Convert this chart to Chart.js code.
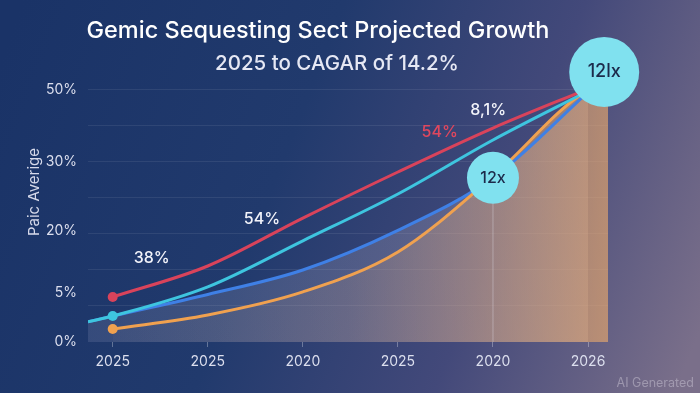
<!DOCTYPE html>
<html>
<head>
<meta charset="utf-8">
<title>Projected Growth</title>
<script src="https://cdn.jsdelivr.net/npm/chart.js@4.4.1/dist/chart.umd.min.js"></script>
<style>
  html, body { margin: 0; padding: 0; background: #1b3468; }
  canvas { display: block; }
</style>
</head>
<body>
<canvas id="myChart" width="700" height="393"></canvas>
<script>
// values, y in grid steps (0..7)
const years = ['2025', '2025', '2020', '2025', '2020', '2026'];
const xSteps = [0, 1, 2, 3, 4, 5];

const redLine = [1.25, 2.11, 3.44, 4.72, 5.94, 7.03];
const cyanLine = [0.72, 1.53, 2.81, 4.11, 5.61, 6.97];
const blueLine = [0.72, 1.32, 2.0, 3.1, 4.56, 6.94];
const orangeLine = [0.36, 0.75, 1.39, 2.5, 4.6, 7.0];

// pieces that run to the plot edges
const leftEdge = -0.26;
const rightEdge = 5.21;
const lineStart = 0.56;
const orangeEnd = 7.15;

const yTickValues = [0, 1.36, 3.1, 5, 7];
const yTickLabels = ['0%', '5%', '20%', '30%', '50%'];
const gridValues = [0, 1, 2, 3, 4, 5, 6, 7];

const bubbleX = [4, 5.17];
const bubbleY = [4.56, 7.5];
const bubbleText = ['12x', '12lx'];

const noteX = [0.41, 1.57, 3.44, 3.95];
const noteY = [2.33, 3.42, 5.83, 6.44];
const noteText = ['38%', '54%', '54%', '8,1%'];

const FONT = 'Inter, "Noto Sans", sans-serif';

const toPoints = (vals) => xSteps.map((x, i) => ({ x: x, y: vals[i] }));

const background = {
    id: 'background',
    beforeDraw: (chart) => {
        const c = chart.ctx;
        const g = c.createLinearGradient(0, 60, 700, 330);
        g.addColorStop(0, '#1a3367');
        g.addColorStop(0.4, '#213a6d');
        g.addColorStop(0.7, '#43497a');
        g.addColorStop(1, '#7a6f8a');
        c.save();
        c.fillStyle = g;
        c.fillRect(0, 0, chart.width, chart.height);
        c.restore();
    }
};

const texts = {
    id: 'texts',
    afterDatasetsDraw: (chart) => {
        const c = chart.ctx;
        const x = chart.scales.x;
        const y = chart.scales.y;
        c.save();
        c.textAlign = 'center';
        c.textBaseline = 'middle';

        // notes on the lines
        const noteColors = ['#f2f3fa', '#f2f3fa', '#e0475e', '#f2f3fa'];
        c.font = '500 16px ' + FONT;
        noteText.forEach((t, i) => {
            c.fillStyle = noteColors[i];
            c.fillText(t, x.getPixelForValue(noteX[i]), y.getPixelForValue(noteY[i]));
        });

        // labels in the bubbles
        const meta = chart.getDatasetMeta(chart.data.datasets.length - 1);
        c.fillStyle = '#1c2a4a';
        meta.data.forEach((pt, i) => {
            c.font = '500 ' + (i === 0 ? 16 : 18) + 'px ' + FONT;
            c.fillText(bubbleText[i], pt.x, pt.y);
        });
        c.restore();
    },
    afterDraw: (chart) => {
        const c = chart.ctx;
        c.save();
        c.textAlign = 'center';
        c.textBaseline = 'middle';
        c.fillStyle = '#ffffff';
        c.font = '500 23.5px ' + FONT;
        c.fillText('Gemic Sequesting Sect Projected Growth', 318, 31);
        c.fillStyle = '#e6e8f4';
        c.font = '500 20.5px ' + FONT;
        c.fillText('2025 to CAGAR of 14.2%', 337, 64);
        c.textAlign = 'right';
        c.fillStyle = 'rgba(195, 190, 205, 0.55)';
        c.font = '12.5px ' + FONT;
        c.fillText('AI Generated', 694, 383);
        c.restore();
    }
};

const ctx = document.getElementById('myChart');

new Chart(ctx, {
    type: 'line',
    data: {
        datasets: [
            {
                label: 'red',
                data: toPoints(redLine),
                borderColor: '#d9435b',
                pointBackgroundColor: '#d9435b',
                borderWidth: 3,
                pointRadius: (c) => (c.raw && c.raw.x === 0 ? 5 : 0),
                pointBorderWidth: 0,
                cubicInterpolationMode: 'monotone',
                fill: false,
                order: 1
            },
            {
                label: 'cyan',
                data: [{ x: leftEdge, y: lineStart }].concat(toPoints(cyanLine)),
                borderColor: '#3ec5df',
                pointBackgroundColor: '#3ec5df',
                borderWidth: 3,
                pointRadius: (c) => (c.raw && c.raw.x === 0 ? 5 : 0),
                pointBorderWidth: 0,
                cubicInterpolationMode: 'monotone',
                fill: false,
                order: 2
            },
            {
                label: 'orange',
                data: toPoints(orangeLine).concat([{ x: rightEdge, y: orangeEnd }]),
                borderColor: '#f0a14f',
                pointBackgroundColor: '#f0a14f',
                borderWidth: 3,
                pointRadius: (c) => (c.raw && c.raw.x === 0 ? 5 : 0),
                pointBorderWidth: 0,
                cubicInterpolationMode: 'monotone',
                fill: 'origin',
                backgroundColor: (c) => {
                    const area = c.chart.chartArea;
                    if (!area) return 'rgba(0,0,0,0)';
                    const g = c.chart.ctx.createLinearGradient(area.left, 0, area.right, 0);
                    g.addColorStop(0, 'rgba(190, 160, 150, 0.03)');
                    g.addColorStop(0.5, 'rgba(205, 160, 130, 0.18)');
                    g.addColorStop(1, 'rgba(232, 168, 108, 0.65)');
                    return g;
                },
                order: 3
            },
            {
                label: 'blue',
                data: [{ x: leftEdge, y: lineStart }].concat(toPoints(blueLine)),
                borderColor: '#3f80e6',
                borderWidth: 3,
                pointRadius: 0,
                cubicInterpolationMode: 'monotone',
                fill: 'origin',
                backgroundColor: (c) => {
                    const area = c.chart.chartArea;
                    if (!area) return 'rgba(0,0,0,0)';
                    const g = c.chart.ctx.createLinearGradient(area.left, 0, area.right, 0);
                    g.addColorStop(0, 'rgba(160, 165, 200, 0.18)');
                    g.addColorStop(1, 'rgba(210, 195, 200, 0.28)');
                    return g;
                },
                order: 4
            },
            {
                label: 'marker',
                data: [{ x: bubbleX[0], y: 0 }, { x: bubbleX[0], y: bubbleY[0] }],
                borderColor: 'rgba(235, 235, 245, 0.35)',
                borderWidth: 1,
                pointRadius: 0,
                fill: false,
                order: 5
            },
            {
                label: 'bubbles',
                data: bubbleX.map((x, i) => ({ x: x, y: bubbleY[i] })),
                showLine: false,
                pointRadius: (c) => (c.dataIndex === 0 ? 26 : 35),
                pointHoverRadius: (c) => (c.dataIndex === 0 ? 26 : 35),
                pointBackgroundColor: '#80e1ef',
                pointBorderWidth: 0,
                clip: false,
                order: 0
            }
        ]
    },
    options: {
        responsive: false,
        animation: false,
        events: [],
        layout: {
            padding: { top: 42, right: 92, bottom: 0, left: 0 }
        },
        scales: {
            x: {
                type: 'linear',
                min: leftEdge,
                max: rightEdge,
                afterBuildTicks: (scale) => {
                    scale.ticks = xSteps.map((v) => ({ value: v }));
                },
                afterFit: (scale) => {
                    scale.height = 51;
                },
                ticks: {
                    autoSkip: false,
                    maxRotation: 0,
                    padding: 6,
                    color: '#dcdfee',
                    font: { family: FONT, size: 14 },
                    callback: (value) => years[value]
                },
                grid: {
                    drawOnChartArea: false,
                    drawTicks: true,
                    tickLength: 5,
                    color: 'rgba(255, 255, 255, 0.3)'
                },
                border: { display: false }
            },
            y: {
                type: 'linear',
                min: 0,
                max: 8.33,
                afterBuildTicks: (scale) => {
                    const all = Array.from(new Set(gridValues.concat(yTickValues)));
                    all.sort((a, b) => a - b);
                    scale.ticks = all.map((v) => ({ value: v }));
                },
                afterFit: (scale) => {
                    scale.width = 88;
                },
                ticks: {
                    autoSkip: false,
                    padding: 11,
                    color: '#dcdfee',
                    font: { family: FONT, size: 14 },
                    callback: (value) => {
                        const i = yTickValues.indexOf(value);
                        return i >= 0 ? yTickLabels[i] : '';
                    }
                },
                grid: {
                    drawTicks: false,
                    color: (c) => (c.tick && gridValues.includes(c.tick.value) && c.tick.value > 0
                        ? 'rgba(255, 255, 255, 0.08)' : 'rgba(0,0,0,0)')
                },
                border: { display: false },
                title: {
                    display: true,
                    text: 'Paic Averige',
                    color: '#d6d9ea',
                    font: { family: FONT, size: 15 },
                    padding: { top: 25, bottom: 0 }
                }
            }
        },
        plugins: {
            legend: { display: false },
            tooltip: { enabled: false },
            filler: { drawTime: 'beforeDatasetsDraw' }
        }
    },
    plugins: [background, texts]
});
</script>
</body>
</html>
